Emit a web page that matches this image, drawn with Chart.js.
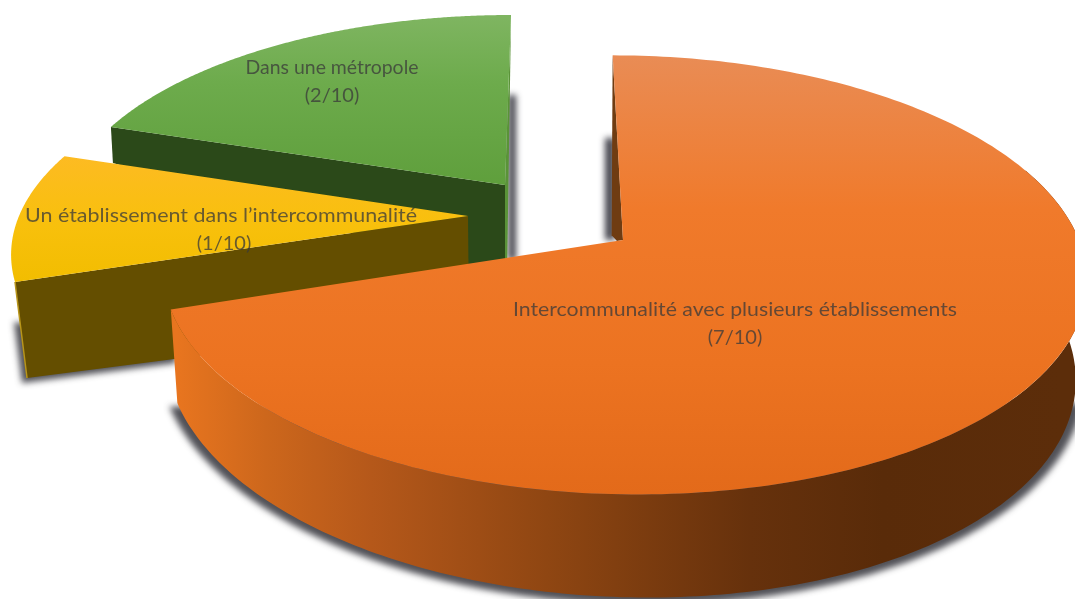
<!DOCTYPE html>
<html><head><meta charset="utf-8">
<style>html,body{margin:0;padding:0;background:#fff;overflow:hidden}canvas{display:block}</style>
<script src="https://cdn.jsdelivr.net/npm/chart.js@4"></script>
</head><body><canvas id="c" width="1075" height="599"></canvas>
<script>
const categories = ['Intercommunalité avec plusieurs établissements', 'Un établissement dans l’intercommunalité', 'Dans une métropole'];
const values = [7, 1, 2];
const topColors = ['#ec7322', '#f8bf0c', '#68a646'];

// Perspective projection of each exploded slice, and its styling
const views = [
  {cx:623, cy:240, k:456, s:214, sk:12, p:.159,
   stops:[[0,'#e98c55'],[.35,'#f07a2b'],[.7,'#ec7321'],[1,'#e36a1a']],
   ring:{cx:617, cy:330, k:448, s:225, sk:26}, ringFrom:-20,
   wall:[[0,0],[0,0],[-6,1],[-1,180]], wallColor:'#6f3c12',
   text:[735,310,444]},
  {cx:468, cy:216, k:449, s:203, sk:-12, p:.159,
   stops:[[0,'#fdbb22'],[.55,'#f8c00c'],[1,'#f2bd00']],
   wall:[[0,0],[0,0],[1,105],[12,96]], wallColor:'#644e00', rim:'#b8951a',
   text:[221,216,392]},
  {cx:505, cy:185, k:437, s:197, sk:-7, p:.159,
   stops:[[0,'#7fb561'],[.4,'#6dab4c'],[1,'#5f9f3c']],
   wall:[[0,0],[0,0],[0,92],[2,36]], wallColor:'#2b4919',
   strip:[[0,0],[0,92],[2,92]], stripColor:'#5a9338',
   text:[332,68,173]}
];
const orangeWallStops = [[0,'#e8751f'],[.1,'#cd671c'],[.22,'#b5581a'],[.42,'#8f4612'],[.65,'#66310c'],[.8,'#592b09'],[1,'#5c2d0a']];
const softShadows = [
  {view:2, x:3, y:-90, w:8, h:165},
  {view:0, x:-18, y:-102, w:10, h:102}
];
const textFill = 'rgba(58,58,58,0.76)';
const fontSpec = '20px Lato, "Open Sans", sans-serif';
const orangeShadowTop = 403;
const yellowShadow = [[3,38],[11,99],[165,79],[165,60]];

function P(v, a, r){
  const o = r || v, X = Math.cos(a), Y = Math.sin(a), w = 1 - v.p * Y;
  return [o.cx + (o.k * X + o.sk * Y) / w, o.cy + o.s * Y / w];
}
function topPath(ctx, v, a0, a1){
  ctx.beginPath();
  ctx.moveTo(v.cx, v.cy);
  for (let i = 0; i <= 240; i++) { const q = P(v, a0 + (a1 - a0) * i / 240); ctx.lineTo(q[0], q[1]); }
  ctx.closePath();
}
function grad(ctx, x0, y0, x1, y1, stops){
  const g = ctx.createLinearGradient(x0, y0, x1, y1);
  stops.forEach(s => g.addColorStop(s[0], s[1]));
  return g;
}
function poly(ctx, pts){
  ctx.beginPath();
  pts.forEach((q, i) => i ? ctx.lineTo(q[0], q[1]) : ctx.moveTo(q[0], q[1]));
  ctx.closePath();
}
function quad(ctx, v, a, off){
  const r = P(v, a);
  const pts = [r, [v.cx, v.cy], [v.cx + off[2][0], v.cy + off[2][1]], [r[0] + off[3][0], r[1] + off[3][1]]];
  poly(ctx, pts);
  return pts;
}
function ringPath(ctx, v, a0, a1){
  ctx.beginPath();
  for (let i = 0; i <= 200; i++) { const q = P(v, a0 + (a1 - a0) * i / 200); i ? ctx.lineTo(q[0], q[1]) : ctx.moveTo(q[0], q[1]); }
  for (let i = 200; i >= 0; i--) { const q = P(v, a0 + (a1 - a0) * i / 200, v.ring); ctx.lineTo(q[0], q[1]); }
  ctx.closePath();
}
// paints only the blurred shadow of a path (the shape itself stays off canvas)
function shadowOnly(ctx, blur, color, pts){
  const far = 3000;
  ctx.save();
  ctx.shadowColor = color; ctx.shadowBlur = blur; ctx.shadowOffsetX = far; ctx.shadowOffsetY = 0;
  ctx.fillStyle = '#000';
  poly(ctx, pts.map(q => [q[0] - far, q[1]]));
  ctx.fill();
  ctx.restore();
}

const pie3d = {
  id: 'pie3d',
  beforeDatasetsDraw(chart){
    const ctx = chart.ctx, arcs = chart.getDatasetMeta(0).data;
    const total = values.reduce((a, b) => a + b, 0);
    ctx.save();

    // soft cast shadows
    softShadows.forEach(s => {
      const v = views[s.view], x = v.cx + s.x, y = v.cy + s.y;
      shadowOnly(ctx, 6, 'rgba(50,50,60,.9)', [[x, y], [x + s.w, y], [x + s.w, y + s.h], [x, y + s.h]]);
    });
    {
      const v = views[0], arc = arcs[0], big = {cx:v.ring.cx, cy:v.ring.cy + 2, k:v.ring.k + 8, s:v.ring.s + 4, sk:v.ring.sk};
      const pts = [];
      for (let i = 0; i <= 240; i++) {
        const q = P(v, -0.1 + (arc.endAngle + 0.1) * i / 240, big);
        if (q[1] >= orangeShadowTop) pts.push(q);
      }
      shadowOnly(ctx, 6, 'rgba(50,50,58,.85)', pts);
      const y = views[1], r = P(y, arcs[1].startAngle);
      shadowOnly(ctx, 6, 'rgba(50,50,58,.85)', yellowShadow.map(o => [r[0] + o[0] - 4, r[1] + o[1] + 2]));
    }

    // slices back to front
    [2, 1, 0].forEach(i => {
      const v = views[i], arc = arcs[i];
      if (v.strip) {
        const e = P(v, arc.endAngle);
        poly(ctx, [e, [v.cx, v.cy]].concat(v.strip.slice(1).map(o => [v.cx + o[0], v.cy + o[1]])));
        ctx.fillStyle = v.stripColor; ctx.fill();
      }
      const pts = quad(ctx, v, arc.startAngle, v.wall);
      ctx.fillStyle = v.wallColor; ctx.fill();
      if (v.rim) {
        ctx.beginPath(); ctx.moveTo(pts[0][0], pts[0][1]); ctx.lineTo(pts[3][0], pts[3][1]);
        ctx.strokeStyle = v.rim; ctx.lineWidth = 1.5; ctx.stroke();
      }
      if (v.ring) {
        ringPath(ctx, v, v.ringFrom * Math.PI / 180, arc.endAngle);
        ctx.fillStyle = grad(ctx, 177, 0, 1060, 0, orangeWallStops);
        ctx.fill();
      }
      let minY = 1e9, maxY = -1e9;
      for (let t = 0; t <= 60; t++) {
        const q = P(v, arc.startAngle + (arc.endAngle - arc.startAngle) * t / 60);
        minY = Math.min(minY, q[1]); maxY = Math.max(maxY, q[1]);
      }
      minY = Math.min(minY, v.cy); maxY = Math.max(maxY, v.cy);
      topPath(ctx, v, arc.startAngle, arc.endAngle);
      ctx.fillStyle = grad(ctx, 0, minY, 0, maxY, v.stops);
      ctx.fill();
    });

    // labels, fitted to the width they have in the picture
    ctx.font = fontSpec;
    ctx.fillStyle = textFill;
    ctx.textAlign = 'center';
    ctx.textBaseline = 'middle';
    categories.forEach((name, i) => {
      const t = views[i].text;
      ctx.save();
      ctx.translate(t[0], t[1]);
      ctx.scale(t[2] / ctx.measureText(name).width, 1);
      ctx.fillText(name, 0, 0);
      ctx.restore();
      ctx.fillText('(' + values[i] + '/' + total + ')', t[0] + (i === 1 ? 3 : 0), t[1] + 28);
    });
    ctx.restore();
    return false;
  }
};

new Chart(document.getElementById('c'), {
  type: 'pie',
  data: { labels: categories, datasets: [{ data: values, backgroundColor: topColors, borderWidth: 0 }] },
  options: {
    responsive: false, animation: false,
    plugins: { legend: { display: false }, tooltip: { enabled: false } }
  },
  plugins: [pie3d]
});
</script></body></html>
